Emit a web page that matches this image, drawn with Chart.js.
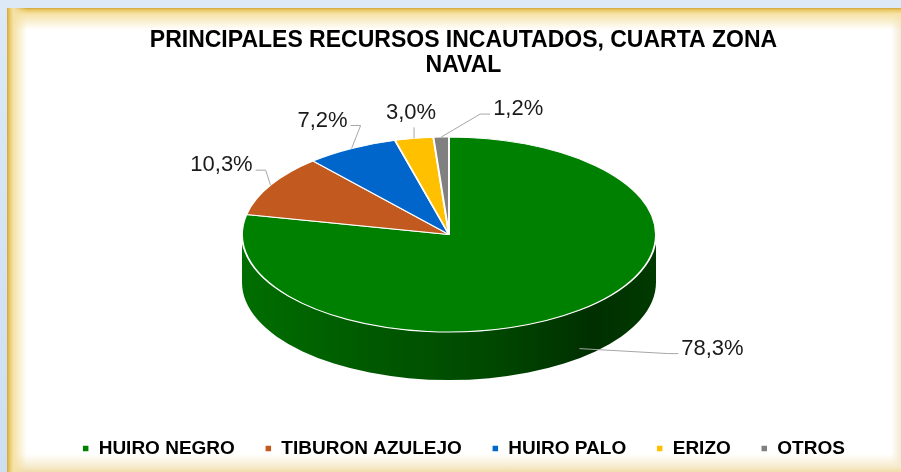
<!DOCTYPE html>
<html>
<head>
<meta charset="utf-8">
<script src="https://cdn.jsdelivr.net/npm/chart.js@4.4.1/dist/chart.umd.min.js"></script>
<style>
  html, body { margin: 0; padding: 0; }
  body {
    width: 901px; height: 472px; overflow: hidden; position: relative;
    background: linear-gradient(to bottom, #dde9f6, #cddff1);
  }
  #panel {
    position: absolute; left: 7px; top: 8px; right: 0; bottom: 0;
    background:
      linear-gradient(to right, #d3a63a 0, #e6c25c 2px, #f5e1a4 6px, rgba(255,250,235,0) 20px),
      linear-gradient(to bottom, #d3a63a 0, #e9c864 2px, #f6e3a8 6px, rgba(255,250,235,0) 22px),
      linear-gradient(to top, #efdcaa 0, #f7ecd0 6px, rgba(255,255,255,0) 18px),
      linear-gradient(to left, #f3ead4 0, rgba(255,255,255,0) 10px),
      #ffffff;
  }
  #wrap { position: absolute; left: 0; top: 0; width: 901px; height: 472px; }
</style>
</head>
<body>
<div id="panel"></div>
<div id="wrap"><canvas id="pieChart" width="901" height="472"></canvas></div>
<script>
// data
const categories = ["HUIRO NEGRO", "TIBURON AZULEJO", "HUIRO PALO", "ERIZO", "OTROS"];
const shares = [78.3, 10.3, 7.2, 3.0, 1.2];
const sliceColors = ["#008000", "#c25a1f", "#0066cc", "#ffc000", "#808080"];
const titleLines = ["PRINCIPALES RECURSOS INCAUTADOS, CUARTA ZONA", "NAVAL"];

const FONT = "'Liberation Sans', Arial, Helvetica, sans-serif";
Chart.defaults.font.family = FONT;

// darken a hex colour by factor f
function shade(hex, f) {
  const n = parseInt(hex.slice(1), 16);
  const r = Math.round(((n >> 16) & 255) * f);
  const g = Math.round(((n >> 8) & 255) * f);
  const b = Math.round((n & 255) * f);
  return `rgb(${r}, ${g}, ${b})`;
}

const sideStops = [[0, 0.86], [0.3, 0.7], [0.6, 0.56], [0.85, 0.37], [1, 0.45]];

function pctText(v) {
  return v.toFixed(1).replace(".", ",") + "%";
}

// squash the pie into a tilted disc and give it a side wall
const pie3d = {
  id: "pie3d",
  beforeDatasetsDraw(chart, args, opts) {
    const ctx = chart.ctx;
    const meta = chart.getDatasetMeta(0);
    const { cx, cy, rx, ry, depth } = opts;
    ctx.save();
    meta.data.forEach((arc, i) => {
      const { startAngle, endAngle } = arc.getProps(["startAngle", "endAngle"], true);
      for (let k = -1; k <= 1; k++) {
        const a0 = Math.max(startAngle, 2 * Math.PI * k);
        const a1 = Math.min(endAngle, Math.PI + 2 * Math.PI * k);
        if (a1 <= a0) continue;
        const grad = ctx.createLinearGradient(cx - rx, 0, cx + rx, 0);
        sideStops.forEach(([pos, f]) => grad.addColorStop(pos, shade(sliceColors[i], f)));
        ctx.beginPath();
        ctx.ellipse(cx, cy, rx, ry, 0, a0, a1);
        ctx.ellipse(cx, cy + depth, rx, ry, 0, a1, a0, true);
        ctx.closePath();
        ctx.fillStyle = grad;
        ctx.fill();
      }
    });
    const arc0 = meta.data[0];
    const R = arc0.outerRadius;
    ctx.translate(cx, cy);
    ctx.scale(rx / R, ry / R);
    ctx.translate(-arc0.x, -arc0.y);
  },
  afterDatasetsDraw(chart, args, opts) {
    const ctx = chart.ctx;
    ctx.restore();
    const meta = chart.getDatasetMeta(0);
    const { cx, cy, rx, ry, depth, offsets } = opts;
    ctx.save();
    ctx.font = "22px " + FONT;
    ctx.textAlign = "center";
    ctx.textBaseline = "middle";
    ctx.strokeStyle = "#a6a6a6";
    ctx.lineWidth = 1;
    ctx.fillStyle = "#1a1a1a";
    meta.data.forEach((arc, i) => {
      const { startAngle, endAngle } = arc.getProps(["startAngle", "endAngle"], true);
      const mid = (startAngle + endAngle) / 2;
      const ax = cx + rx * Math.cos(mid);
      let ay = cy + ry * Math.sin(mid);
      if (Math.sin(mid) > 0) ay += depth * 0.8;
      const [dx, dy] = offsets[i];
      const tx = ax + dx, ty = ay + dy;
      const text = pctText(shares[i]);
      const w = ctx.measureText(text).width;
      ctx.beginPath();
      if (Math.abs(dx) > w / 2) {
        const side = Math.sign(dx);
        const ex = tx - side * (w / 2 + 3), ey = ty + 5;
        ctx.moveTo(ex, ey);
        ctx.lineTo(ex - side * 10, ey);
        ctx.lineTo(ax, ay);
      } else {
        ctx.moveTo(ax, ty + 14);
        ctx.lineTo(ax, ay);
      }
      ctx.stroke();
      ctx.fillText(text, tx, ty);
    });
    ctx.restore();
  }
};

new Chart(document.getElementById("pieChart"), {
  type: "pie",
  data: {
    labels: categories,
    datasets: [{
      data: shares,
      backgroundColor: sliceColors,
      borderColor: "#ffffff",
      borderWidth: 1.5,
      clip: false
    }]
  },
  options: {
    responsive: false,
    animation: false,
    layout: { padding: { left: 26, right: 0, top: 0, bottom: 4 } },
    plugins: {
      tooltip: { enabled: false },
      title: {
        display: true,
        text: titleLines,
        color: "#000000",
        font: { size: 23, weight: "bold", lineHeight: 1.09 },
        padding: { top: 28, bottom: 10 }
      },
      legend: {
        position: "bottom",
        labels: {
          color: "#000000",
          font: { size: 19, weight: "bold" },
          usePointStyle: true,
          pointStyle: "rect",
          boxWidth: 7,
          boxHeight: 7,
          padding: 30
        }
      },
      pie3d: {
        cx: 449, cy: 234.5, rx: 207, ry: 97.5, depth: 48,
        offsets: [[133, 0], [-49, -20], [-29, -28], [-3, -25], [77, -28]]
      }
    }
  },
  plugins: [pie3d]
});
</script>
</body>
</html>
